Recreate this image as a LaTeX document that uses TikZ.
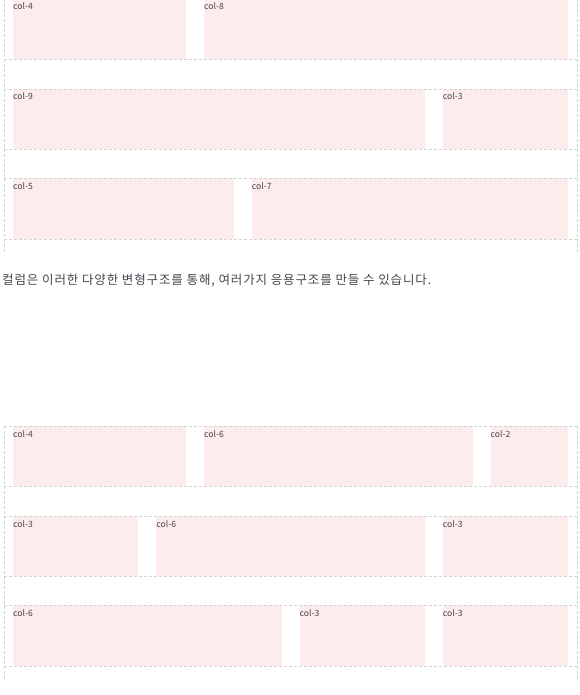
\documentclass[tikz,border=0pt]{standalone}
\usepackage{fontspec}
\usepackage{xcolor}
\usepackage{tikz}
\usetikzlibrary{positioning}
\newfontfamily\kofont{Noto Sans CJK KR}
\newfontfamily\konote[LetterSpace=7]{Noto Sans CJK KR}
\definecolor{gpink}{HTML}{FDECEC}
\definecolor{gline}{HTML}{D4D4D4}
\definecolor{gtext}{HTML}{45454F}
\tikzset{
  gcell/.style={fill=gpink},
  grule/.style={draw=gline, dash pattern=on 3pt off 2pt, line width=0.6pt},
  glbl/.style={gtext, font=\kofont\fontsize{8.6}{10}\selectfont, inner sep=0pt, anchor=base west},
  gnote/.style={gtext, font=\konote\fontsize{12.5}{14}\selectfont, inner sep=0pt, anchor=base west},
}

\begin{document}
\begin{tikzpicture}[x=1pt,y=-1pt]
  \useasboundingbox (0,0) rectangle (580,695);

  % --- first grid: 4+8, 9+3, 5+7 ---
  \begin{scope}[shift={(0,-1)}]
    \fill[gcell] (13,0) rectangle (186,60);
    \fill[gcell] (204,0) rectangle (568,60);
    \fill[gcell] (13,90) rectangle (424.75,150);
    \fill[gcell] (442.75,90) rectangle (568,150);
    \fill[gcell] (13,179) rectangle (233.75,240);
    \fill[gcell] (251.75,179) rectangle (568,240);
    \foreach \y in {0,60,90,150,179,240}
      \draw[grule] (4,\y) -- (577,\y);
    \draw[grule] (4,0) -- (4,255);
    \draw[grule] (577,0) -- (577,255);
    \node[glbl] (ta4) at (13,11) {col-4};
    \node[glbl] (ta8) at (204,11) {col-8};
    \node[glbl] (tb9) at (13,101) {col-9};
    \node[glbl] (tb3) at (442.75,101) {col-3};
    \node[glbl] (tc5) at (13,190) {col-5};
    \node[glbl] (tc7) at (251.75,190) {col-7};
  \end{scope}

  % 설명
  \node[gnote] (note) at (2,284.5) {컬럼은 이러한 다양한 변형구조를 통해, 여러가지 응용구조를 만들 수 있습니다.};

  % --- second grid: 4+6+2, 3+6+3, 6+3+3 ---
  \begin{scope}[shift={(0,426)}]
    \fill[gcell] (13,0) rectangle (186,60);
    \fill[gcell] (204,0) rectangle (472.5,60);
    \fill[gcell] (490.5,0) rectangle (568,60);
    \fill[gcell] (13,90) rectangle (138.25,150);
    \fill[gcell] (156.25,90) rectangle (424.75,150);
    \fill[gcell] (442.75,90) rectangle (568,150);
    \fill[gcell] (13,179) rectangle (281.5,240);
    \fill[gcell] (299.5,179) rectangle (424.75,240);
    \fill[gcell] (442.75,179) rectangle (568,240);
    \foreach \y in {0,60,90,150,179,240}
      \draw[grule] (4,\y) -- (577,\y);
    \draw[grule] (4,0) -- (4,255);
    \draw[grule] (577,0) -- (577,255);
    \node[glbl] (ba4) at (13,11) {col-4};
    \node[glbl] (ba6) at (204,11) {col-6};
    \node[glbl] (ba2) at (490.5,11) {col-2};
    \node[glbl] (bb3) at (13,101) {col-3};
    \node[glbl] (bb6) at (156.25,101) {col-6};
    \node[glbl] (bb3r) at (442.75,101) {col-3};
    \node[glbl] (bc6) at (13,190) {col-6};
    \node[glbl] (bc3) at (299.5,190) {col-3};
    \node[glbl] (bc3r) at (442.75,190) {col-3};
  \end{scope}

\end{tikzpicture}
\end{document}
